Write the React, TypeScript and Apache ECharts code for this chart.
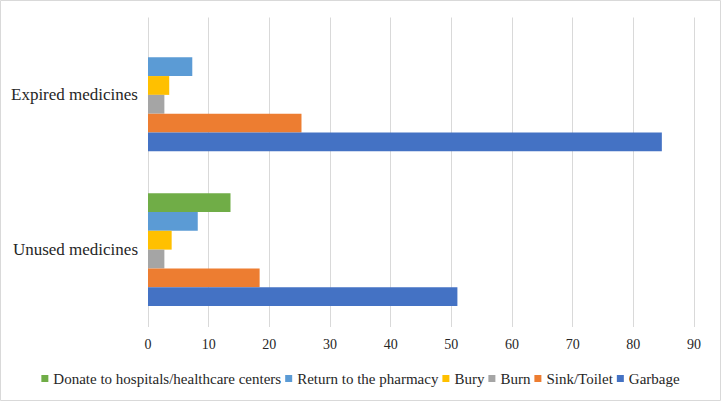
import React, { useEffect, useRef } from "react";
import * as echarts from "echarts";

const categories = ["Unused medicines", "Expired medicines"];
const seriesNames = [
  "Donate to hospitals/healthcare centers",
  "Return to the pharmacy",
  "Bury",
  "Burn",
  "Sink/Toilet",
  "Garbage",
];
const donate = [13.6, null];
const returnPharmacy = [8.2, 7.3];
const bury = [3.9, 3.5];
const burn = [2.7, 2.7];
const sinkToilet = [18.4, 25.3];
const garbage = [51.0, 84.7];
const xTicks = [0, 10, 20, 30, 40, 50, 60, 70, 80, 90];

const colors = ["#70AD47", "#5B9BD5", "#FFC000", "#A5A5A5", "#ED7D31", "#4472C4"];
const FONT = "Liberation Serif";

export default function App() {
  const ref = useRef<HTMLDivElement>(null);
  useEffect(() => {
    if (!ref.current) return;
    const chart = echarts.init(ref.current, undefined, { renderer: "svg" });
    const values = [donate, returnPharmacy, bury, burn, sinkToilet, garbage];
    chart.setOption({
      animation: false,
      backgroundColor: "#ffffff",
      textStyle: { fontFamily: FONT },
      grid: { left: 148, right: 27, top: 17.5, bottom: 74, containLabel: false },
      legend: {
        data: seriesNames,
        top: 366,
        left: "center",
        itemWidth: 7,
        itemHeight: 7,
        itemGap: 4,
        icon: "rect",
        textStyle: { fontFamily: FONT, fontSize: 15, color: "#262626" },
      },
      xAxis: {
        type: "value",
        min: xTicks[0],
        max: xTicks[xTicks.length - 1],
        interval: 10,
        axisLine: { show: false },
        axisTick: { show: false },
        splitLine: { show: true, lineStyle: { color: "#d9d9d9", width: 1 } },
        axisLabel: { fontFamily: FONT, fontSize: 14, color: "#262626", margin: 10 },
      },
      yAxis: {
        type: "category",
        data: categories,
        axisLine: { show: false },
        axisTick: { show: false },
        axisLabel: { fontFamily: FONT, fontSize: 17, color: "#262626", margin: 10 },
      },
      graphic: [
        {
          type: "rect",
          shape: { x: 0.5, y: 0.5, width: 720, height: 400 },
          style: { fill: "none", stroke: "#d9d9d9", lineWidth: 1 },
          silent: true,
        },
      ],
      series: seriesNames.map((name, i) => ({
        name,
        type: "bar",
        data: values[i],
        itemStyle: { color: colors[i] },
        barGap: "0%",
        barCategoryGap: "27%",
      })),
    });
    return () => chart.dispose();
  }, []);
  return (
    <div
      ref={ref}
      style={{ position: "absolute", left: 0, top: 0, width: 721, height: 401 }}
    />
  );
}
